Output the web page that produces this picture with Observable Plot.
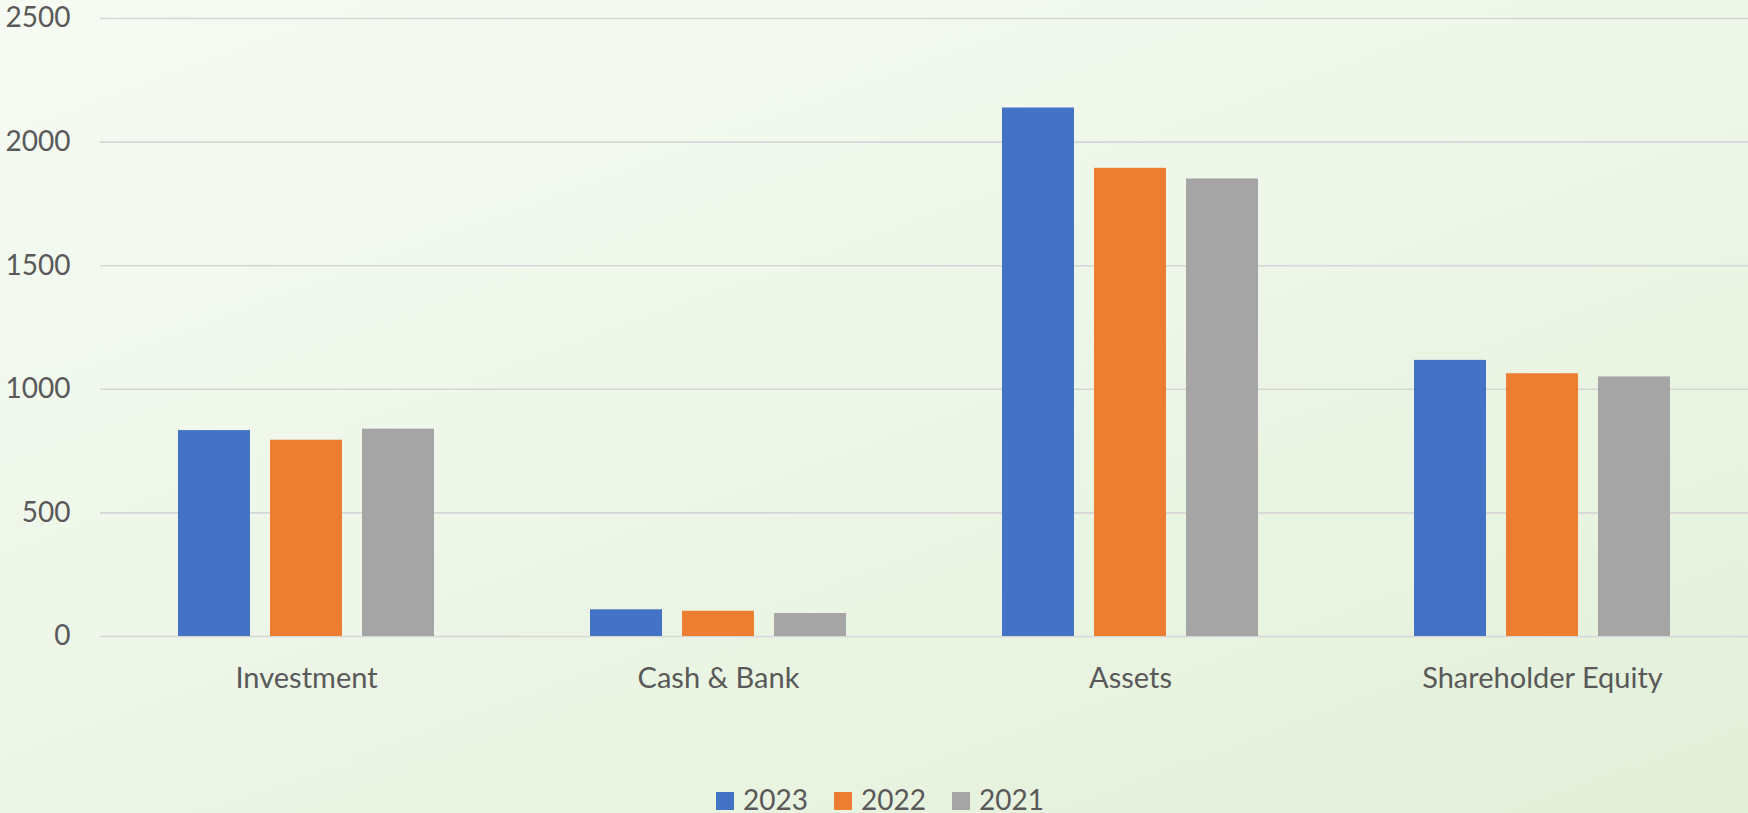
<!DOCTYPE html>
<html>
<head>
<meta charset="utf-8">
<script src="https://cdn.jsdelivr.net/npm/d3@7"></script>
<script src="https://cdn.jsdelivr.net/npm/@observablehq/plot@0.6"></script>
<style>
  html, body { margin: 0; padding: 0; }
  body {
    width: 1748px; height: 813px; overflow: hidden; position: relative;
    background: linear-gradient(160deg, #f6fbf3 0%, #eff7ea 40%, #e8f3e0 75%, #e2efd8 100%);
    font-family: Lato, "Open Sans", sans-serif; color: #595959;
  }
  #chart { position: absolute; left: 0; top: 0; }
  #legend {
    position: absolute; left: 0; top: 785px; width: 1760px;
    display: flex; justify-content: center; align-items: center;
    font-size: 28px; line-height: 28px; color: #595959;
  }
  .item { display: flex; align-items: center; margin: 0 13px; }
  .sw { width: 18px; height: 18px; margin-right: 9px; margin-top: 3px; }
</style>
</head>
<body>
<div id="chart"></div>
<div id="legend"></div>
<script>
const categories = ["Investment", "Cash & Bank", "Assets", "Shareholder Equity"];
const years = ["2023", "2022", "2021"];
const values2023 = [833, 108, 2138, 1117];
const values2022 = [794, 102, 1894, 1063];
const values2021 = [839, 93, 1851, 1050];
const yTicks = [0, 500, 1000, 1500, 2000, 2500];
const colors = ["#4472c4", "#ed7d31", "#a5a5a5"];

const series = [values2023, values2022, values2021];
const data = [];
categories.forEach((c, i) => {
  years.forEach((y, j) => data.push({category: c, year: y, value: series[j][i]}));
});

const plot = Plot.plot({
  width: 1748,
  height: 720,
  marginLeft: 99,
  marginRight: 0,
  marginTop: 18,
  marginBottom: 84,
  style: {background: "transparent", fontFamily: "Lato, 'Open Sans', sans-serif", fontSize: "28px", color: "#595959"},
  fx: {domain: categories, paddingInner: 0, paddingOuter: 0, label: null},
  x: {domain: years, paddingInner: 0.217, paddingOuter: 0.84, axis: null},
  y: {domain: [0, 2500], label: null},
  color: {domain: years, range: colors},
  marks: [
    Plot.gridY(yTicks, {stroke: "#d6d6d6", strokeOpacity: 1, strokeWidth: 1.6}),
    Plot.axisY(yTicks, {tickSize: 0, tickPadding: 30, label: null, fill: "#595959", fontSize: 28, tickFormat: d => String(d)}),
    Plot.axisFx({anchor: "bottom", tickSize: 0, tickPadding: 31, label: null, fill: "#595959", fontSize: 29}),
    Plot.barY(data, {fx: "category", x: "year", y: "value", fill: "year"})
  ]
});
document.getElementById("chart").appendChild(plot);

const legend = document.getElementById("legend");
years.forEach((y, j) => {
  const item = document.createElement("div");
  item.className = "item";
  const sw = document.createElement("span");
  sw.className = "sw";
  sw.style.background = colors[j];
  const t = document.createElement("span");
  t.textContent = y;
  item.appendChild(sw);
  item.appendChild(t);
  legend.appendChild(item);
});
</script>
</body>
</html>
